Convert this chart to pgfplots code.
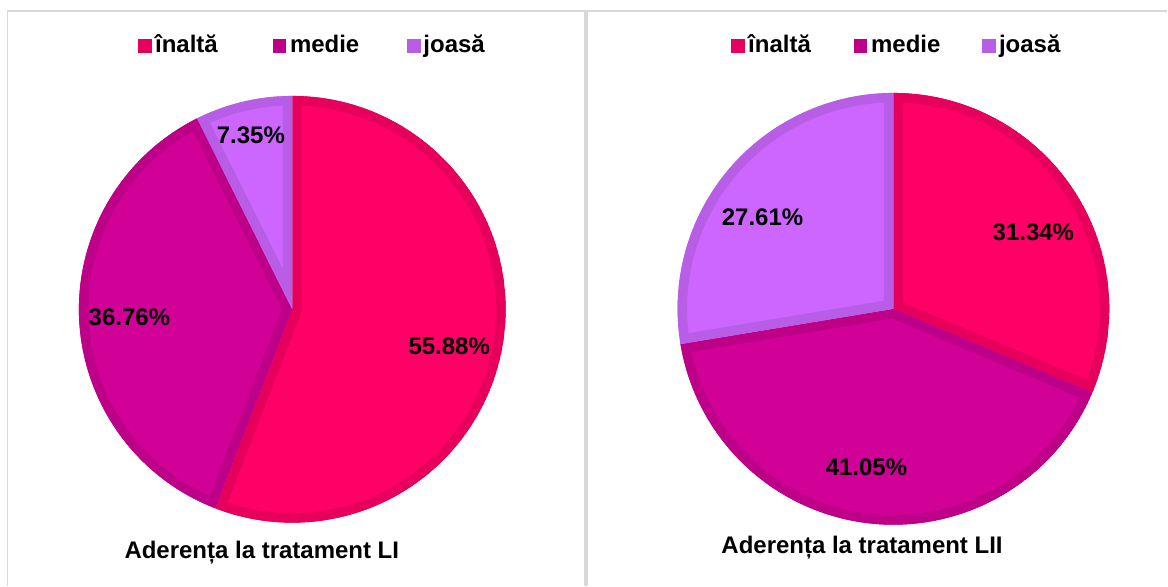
\documentclass[border=0pt]{standalone}
\usepackage{pgfplots}
\usepackage{pgfplotstable}
\pgfplotsset{compat=1.18}
\usepackage{fontspec}
\setmainfont{Liberation Sans}

\definecolor{cAfill}{HTML}{FF0066}
\definecolor{cAbord}{HTML}{E6005C}
\definecolor{cBfill}{HTML}{D10097}
\definecolor{cBbord}{HTML}{BE0089}
\definecolor{cCfill}{HTML}{CC66FF}
\definecolor{cCbord}{HTML}{B85EE6}
\definecolor{frame}{HTML}{D9D9D9}

\pgfplotstableread{
cat    LI     LII
inalta 55.88  31.34
medie  36.76  41.05
joasa  7.35   27.61
}\adherence

\pgfplotstablegetelem{0}{LI}\of\adherence \edef\LIa{\pgfplotsretval}
\pgfplotstablegetelem{1}{LI}\of\adherence \edef\LIb{\pgfplotsretval}
\pgfplotstablegetelem{2}{LI}\of\adherence \edef\LIc{\pgfplotsretval}
\pgfplotstablegetelem{0}{LII}\of\adherence \edef\LIIa{\pgfplotsretval}
\pgfplotstablegetelem{1}{LII}\of\adherence \edef\LIIb{\pgfplotsretval}
\pgfplotstablegetelem{2}{LII}\of\adherence \edef\LIIc{\pgfplotsretval}

\pgfmathsetmacro\LIangA{90-3.6*\LIa}
\pgfmathsetmacro\LIangB{\LIangA-3.6*\LIb}
\pgfmathsetmacro\LIIangA{90-3.6*\LIIa}
\pgfmathsetmacro\LIIangB{\LIIangA-3.6*\LIIb}

% #1 cx, #2 cy, #3 r, #4 start angle, #5 end angle, #6 fill, #7 border
\newcommand{\pieslice}[7]{%
  \begin{scope}
    \clip (axis cs:#1,#2) -- ++(#4:#3pt) arc[start angle=#4, end angle=#5, radius=#3pt] -- cycle;
    \fill[#6] (axis cs:#1,#2) -- ++(#4:#3pt) arc[start angle=#4, end angle=#5, radius=#3pt] -- cycle;
    \draw[#7, line width=19pt, line join=miter] (axis cs:#1,#2) -- ++(#4:#3pt) arc[start angle=#4, end angle=#5, radius=#3pt] -- cycle;
  \end{scope}}

\newcommand{\bigfont}{\fontsize{24}{28}\selectfont\bfseries}

\begin{document}
\begin{tikzpicture}
\begin{axis}[
  x=1pt, y=1pt, y dir=reverse,
  xmin=0, xmax=1168, ymin=0, ymax=586,
  scale only axis, hide axis, clip=false,
  anchor=north west, at={(0pt,0pt)},
]
\path (axis cs:0,0) rectangle (axis cs:1168,586);

% panel frames
\draw[frame, line width=1.5pt] (axis cs:7.5,586) -- (axis cs:7.5,10.8) -- (axis cs:585.5,10.8) -- (axis cs:585.5,586);
\draw[frame, line width=1.5pt] (axis cs:587.5,586) -- (axis cs:587.5,10.8) -- (axis cs:1168,10.8);

% left pie
\pieslice{292.5}{309.5}{213.5}{90}{\LIangA}{cAfill}{cAbord}
\pieslice{292.5}{309.5}{213.5}{\LIangA}{\LIangB}{cBfill}{cBbord}
\pieslice{292.5}{309.5}{213.5}{\LIangB}{-270}{cCfill}{cCbord}

% right pie
\pieslice{894}{309}{216}{90}{\LIIangA}{cAfill}{cAbord}
\pieslice{894}{309}{216}{\LIIangA}{\LIIangB}{cBfill}{cBbord}
\pieslice{894}{309}{216}{\LIIangB}{-270}{cCfill}{cCbord}

% data labels
\node[anchor=base, font=\bigfont, inner sep=0pt] at (axis cs:449.5,354.3) {\LIa\%};
\node[anchor=base, font=\bigfont, inner sep=0pt] at (axis cs:129.5,326) {\LIb\%};
\node[anchor=base, font=\bigfont, inner sep=0pt] at (axis cs:251,143.3) {\LIc\%};
\node[anchor=base, font=\bigfont, inner sep=0pt] at (axis cs:1034,241) {\LIIa\%};
\node[anchor=base, font=\bigfont, inner sep=0pt] at (axis cs:867,476) {\LIIb\%};
\node[anchor=base, font=\bigfont, inner sep=0pt] at (axis cs:763,226) {\LIIc\%};

% legends
\fill[cAbord] (axis cs:138.5,39) rectangle (axis cs:152,52.7);
\node[anchor=base west, font=\bigfont, inner sep=0pt] at (axis cs:155,52.7) {înaltă};
\fill[cBbord] (axis cs:273,39) rectangle (axis cs:286.5,52.7);
\node[anchor=base west, font=\bigfont, inner sep=0pt] at (axis cs:290,52.7) {medie};
\fill[cCbord] (axis cs:407.6,39) rectangle (axis cs:421,52.7);
\node[anchor=base west, font=\bigfont, inner sep=0pt] at (axis cs:423.5,52.7) {joasă};

\fill[cAbord] (axis cs:731.5,39) rectangle (axis cs:745,52.7);
\node[anchor=base west, font=\bigfont, inner sep=0pt] at (axis cs:748.5,52.7) {înaltă};
\fill[cBbord] (axis cs:854.5,39) rectangle (axis cs:868,52.7);
\node[anchor=base west, font=\bigfont, inner sep=0pt] at (axis cs:871.5,52.7) {medie};
\fill[cCbord] (axis cs:983,39) rectangle (axis cs:996.5,52.7);
\node[anchor=base west, font=\bigfont, inner sep=0pt] at (axis cs:999.5,52.7) {joasă};

% titles
\node[anchor=base west, font=\bigfont, inner sep=0pt] at (axis cs:124.4,559.3) {Aderența la tratament LI};
\node[anchor=base west, font=\bigfont, inner sep=0pt] at (axis cs:721.7,554) {Aderența la tratament LII};
\end{axis}
\end{tikzpicture}
\end{document}
